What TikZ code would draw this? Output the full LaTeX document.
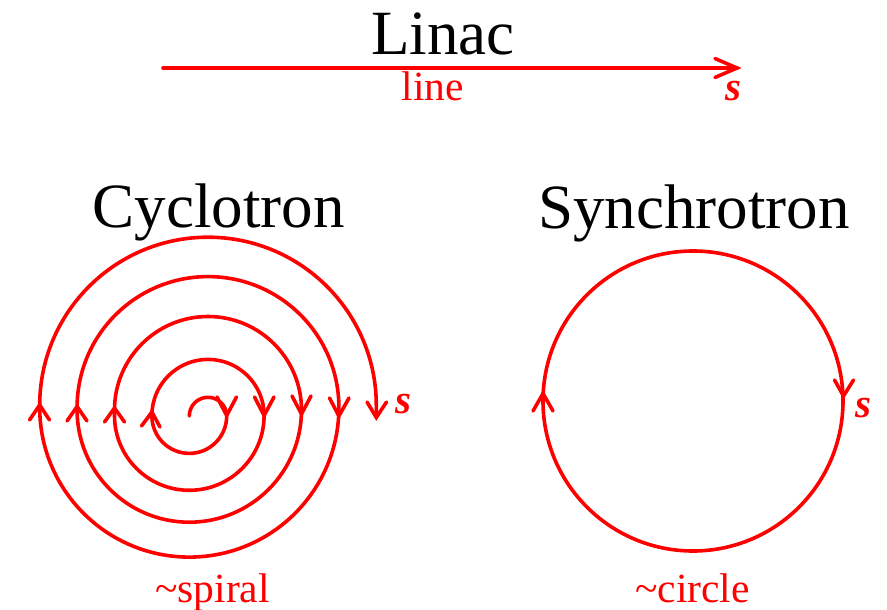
\documentclass[tikz,border=0pt]{standalone}
\usepackage{fontspec}
\setmainfont{Liberation Serif}
\begin{document}
\begin{tikzpicture}[x=1pt,y=-1pt,
  track/.style={draw=red,line width=3.6pt,line cap=round,line join=round},
  arrowv/.style={draw=red,line width=3.6pt,line cap=round,line join=miter},
  title/.style={inner sep=0pt,anchor=base,font=\fontsize{63}{70}\selectfont},
  redlabel/.style={inner sep=0pt,anchor=base,text=red,font=\fontsize{41.5}{46}\selectfont},
  slabel/.style={inner sep=0pt,anchor=base,text=red,font=\fontsize{41}{46}\selectfont\bfseries\itshape}]
\useasboundingbox (0,0) rectangle (887,610);

% ---------- Linac ----------
\node[title] (linac) at (443,55) {Linac};
\coordinate (lstart) at (163,68);
\coordinate (lend) at (737,68);
\draw[track] (lstart) -- (lend);
\draw[arrowv] (715,58.5) -- (lend) -- (715,77.5);
\node[redlabel] (line) at (433,100) {line};
\node[slabel] (ls) at (733,100) {s};

% ---------- Cyclotron ----------
\node[title] (cyc) at (218.5,227) {Cyclotron};
\coordinate (sp0) at (189.3,416);
\draw[track] (sp0)
  arc[start angle=180,end angle=360,radius=18.7]
  arc[start angle=0,end angle=180,radius=37.4]
  -- ++(0,-0.5)
  arc[start angle=180,end angle=360,radius=56.1]
  arc[start angle=0,end angle=180,radius=74.8]
  -- ++(0,-5.5)
  arc[start angle=180,end angle=360,radius=93.5]
  arc[start angle=0,end angle=180,radius=112.2]
  -- ++(0,-2.5)
  arc[start angle=180,end angle=360,radius=130.9]
  arc[start angle=0,end angle=180,radius=149.6]
  -- ++(0,-2)
  arc[start angle=180,end angle=360,radius=168.3]
  -- ++(0,12) coordinate (spend);
% downward arrows (right side)
\draw[arrowv] (217,397) -- (226.7,415.5) -- (236.5,397);
\draw[arrowv] (254.5,397) -- (264.1,415.5) -- (274,397);
\draw[arrowv] (292,396) -- (301.5,414) -- (311,396);
\draw[arrowv] (329.5,398) -- (338.9,416) -- (349,398);
\draw[arrowv] (367,402) -- (spend) -- (386.5,402);
% upward arrows (left side)
\draw[arrowv] (29.5,420) -- (39.7,405) -- (49.5,420);
\draw[arrowv] (67,421) -- (77.1,406.5) -- (87,421);
\draw[arrowv] (104.5,422) -- (114.5,408) -- (124.5,422);
\draw[arrowv] (141.5,426) -- (151.9,412) -- (160,427);
\node[slabel] (cs) at (403,413) {s};
\node[redlabel] (spiral) at (212.5,602) {\textasciitilde spiral};

% ---------- Synchrotron ----------
\node[title] (syn) at (694,228) {Synchrotron};
\coordinate (cc) at (693,401);
\draw[track] (cc) circle[radius=150];
\draw[arrowv] (533,411) -- (543,393.5) -- (553,411);
\draw[arrowv] (834.5,380) -- (843.5,396) -- (853.5,380);
\node[slabel] (ss) at (863,417) {s};
\node[redlabel] (circ) at (692.5,602) {\textasciitilde circle};
\end{tikzpicture}
\end{document}
